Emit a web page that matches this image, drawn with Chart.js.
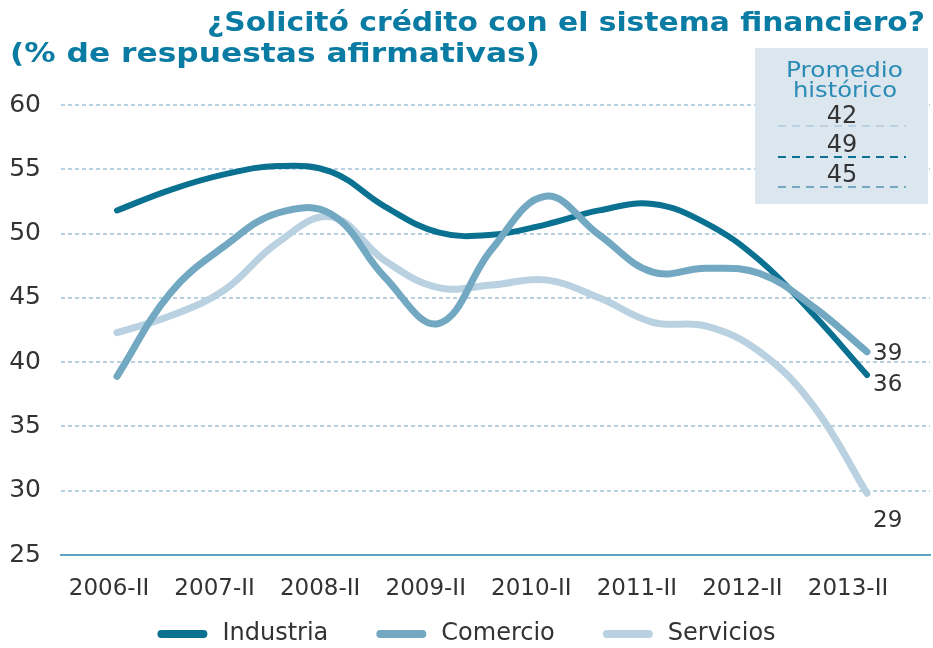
<!DOCTYPE html>
<html><head><meta charset="utf-8">
<script src="https://cdn.jsdelivr.net/npm/chart.js@4.4.1/dist/chart.umd.min.js"></script>
<style>html,body{margin:0;padding:0;background:#fff}canvas{display:block}</style>
</head><body>
<canvas id="c" width="933" height="648"></canvas>
<script>
// ---- data ----
const semesters = ["2006-II","2007-I","2007-II","2008-I","2008-II","2009-I","2009-II","2010-I","2010-II","2011-I","2011-II","2012-I","2012-II","2013-I","2013-II"];
const yearLabels = ["2006-II","2007-II","2008-II","2009-II","2010-II","2011-II","2012-II","2013-II"];
const seriesNames = ["Industria","Comercio","Servicios"];
const industria = [51.8,53.4,54.6,55.25,54.8,52.1,50.1,49.9,50.7,51.8,52.3,50.8,47.9,43.7,39.0];
const comercio  = [38.9,45.4,49.0,51.6,51.5,46.6,43.0,48.8,52.9,49.9,47.0,47.3,46.9,44.3,40.8];
const servicios = [42.3,43.6,45.6,49.3,51.3,47.9,45.8,46.0,46.4,45.0,43.1,42.8,40.8,36.6,29.8];
const endLabels = ["36","39","29"];
const avgTitle = ["Promedio","histórico"];
const avgValues = ["42","49","45"];
const avgSeries = [2,0,1];
const yTicks = [25,30,35,40,45,50,55,60];
const titleLines = ["¿Solicitó crédito con el sistema financiero?","(% de respuestas afirmativas)"];

// ---- styles / layout ----
const FONT = "'DejaVu Sans', Verdana, sans-serif";
const colors = ["#0b7191","#72a8c2","#b9d1e0"];
const widths = [6,7,7];
const orders = [1,0,2];
const AREA_L = 61, AREA_R = 930;
const P_FIRST = 117, P_LAST = 867;
const L_FIRST = 109, L_LAST = 848;
const pStep = (P_LAST-P_FIRST)/(semesters.length-1);
const lStep = (L_LAST-L_FIRST)/(yearLabels.length-1);
const xMin = -(P_FIRST-AREA_L)/pStep, xMax = (semesters.length-1)+(AREA_R-P_LAST)/pStep;
const lMin = -(L_FIRST-AREA_L)/lStep, lMax = (yearLabels.length-1)+(AREA_R-L_LAST)/lStep;
const endOffsets = [10,2,28];

const allSeries = [industria, comercio, servicios];

function fitText(ctx, text, x, y, targetW, size, weight){
  ctx.font = `${weight} ${size}px ${FONT}`;
  const w = ctx.measureText(text).width;
  ctx.save();
  ctx.translate(x, y);
  ctx.scale(targetW/w, 1);
  ctx.fillText(text, 0, 0);
  ctx.restore();
}

const deco = {
  id:'deco',
  beforeDatasetsDraw(chart){
    const ctx = chart.ctx;
    ctx.save();
    ctx.fillStyle = '#dce6ef';
    ctx.fillRect(755,48,173,156);
    ctx.restore();
  },
  afterDraw(chart){
    const ctx = chart.ctx;
    ctx.save();
    // title
    ctx.fillStyle = '#0a7ba2';
    ctx.textBaseline = 'alphabetic';
    ctx.textAlign = 'left';
    fitText(ctx, titleLines[0], 207, 31, 718, 27, 'bold');
    fitText(ctx, titleLines[1], 10, 62, 530, 27, 'bold');
    // box contents
    ctx.textAlign = 'left';
    ctx.fillStyle = '#2a8bb5';
    fitText(ctx, avgTitle[0], 786, 77, 117, 22, 'normal');
    fitText(ctx, avgTitle[1], 793, 97, 104, 22, 'normal');
    ctx.textAlign = 'center';
    const rowY = [117,146,176];
    const dashY = [126,157,187];
    avgValues.forEach((v,i)=>{
      ctx.setLineDash([8,6]);
      ctx.lineWidth = 2;
      ctx.strokeStyle = colors[avgSeries[i]];
      ctx.beginPath(); ctx.moveTo(778,dashY[i]); ctx.lineTo(906,dashY[i]); ctx.stroke();
      ctx.setLineDash([]);
      ctx.fillStyle = '#333';
      ctx.textBaseline = 'middle';
      ctx.font = `24px ${FONT}`;
      ctx.fillText(v, 842, rowY[i]);
    });
    // end labels
    ctx.textAlign = 'left';
    ctx.textBaseline = 'middle';
    ctx.font = `23px ${FONT}`;
    ctx.fillStyle = '#333';
    chart.data.datasets.forEach((ds,i)=>{
      const meta = chart.getDatasetMeta(i);
      const p = meta.data[meta.data.length-1];
      ctx.fillText(endLabels[i], p.x+6, p.y+endOffsets[i]);
    });
    // legend
    ctx.font = `24px ${FONT}`;
    const tw = seriesNames.map(n=>ctx.measureText(n).width);
    const total = tw.reduce((a,b)=>a+b,0) + seriesNames.length*(50+15) + (seriesNames.length-1)*48;
    let x = (chart.width-total)/2;
    const ly = 634;
    seriesNames.forEach((n,i)=>{
      ctx.strokeStyle = colors[i];
      ctx.lineWidth = 8; ctx.lineCap = 'round';
      ctx.beginPath(); ctx.moveTo(x+4,ly); ctx.lineTo(x+46,ly); ctx.stroke();
      ctx.fillStyle = '#333';
      ctx.fillText(n, x+65, ly);
      x += 65 + tw[i] + 48;
    });
    ctx.restore();
  }
};

new Chart(document.getElementById('c'), {
  type:'line',
  data:{
    datasets: seriesNames.map((n,i)=>({
      label:n,
      data: allSeries[i].map((v,j)=>({x:j,y:v})),
      borderColor: colors[i],
      borderWidth: widths[i],
      tension:0.4,
      pointRadius:0,
      borderCapStyle:'round',
      borderJoinStyle:'round',
      fill:false,
      order: orders[i],
      xAxisID:'x', yAxisID:'y'
    }))
  },
  options:{
    responsive:false, animation:false, devicePixelRatio:1,
    layout:{padding:{top:105,left:0,right:3,bottom:0}},
    plugins:{legend:{display:false}, tooltip:{enabled:false}},
    scales:{
      x:{type:'linear', display:false, min:xMin, max:xMax},
      xl:{type:'linear', position:'bottom', min:lMin, max:lMax,
        afterBuildTicks:a=>{a.ticks = yearLabels.map((_,i)=>({value:i}));},
        ticks:{callback:v=>yearLabels[v], font:{family:FONT,size:23}, color:'#333', padding:20, maxRotation:0, autoSkip:false},
        grid:{display:false, drawTicks:false},
        border:{display:true, color:'#5ea3c2', width:2},
        afterFit:a=>{a.height=93;}
      },
      y:{type:'linear', min:25, max:60,
        afterBuildTicks:a=>{a.ticks = yTicks.map(v=>({value:v}));},
        ticks:{font:{family:FONT,size:25}, color:'#333', padding:20},
        grid:{color:c=>c.tick && c.tick.value===25 ? 'rgba(0,0,0,0)' : '#b7d3e3', lineWidth:2, drawTicks:false},
        border:{display:false, dash:[4,3]},
        afterFit:a=>{a.width=61;}
      }
    }
  },
  plugins:[deco]
});
</script>
</body></html>
